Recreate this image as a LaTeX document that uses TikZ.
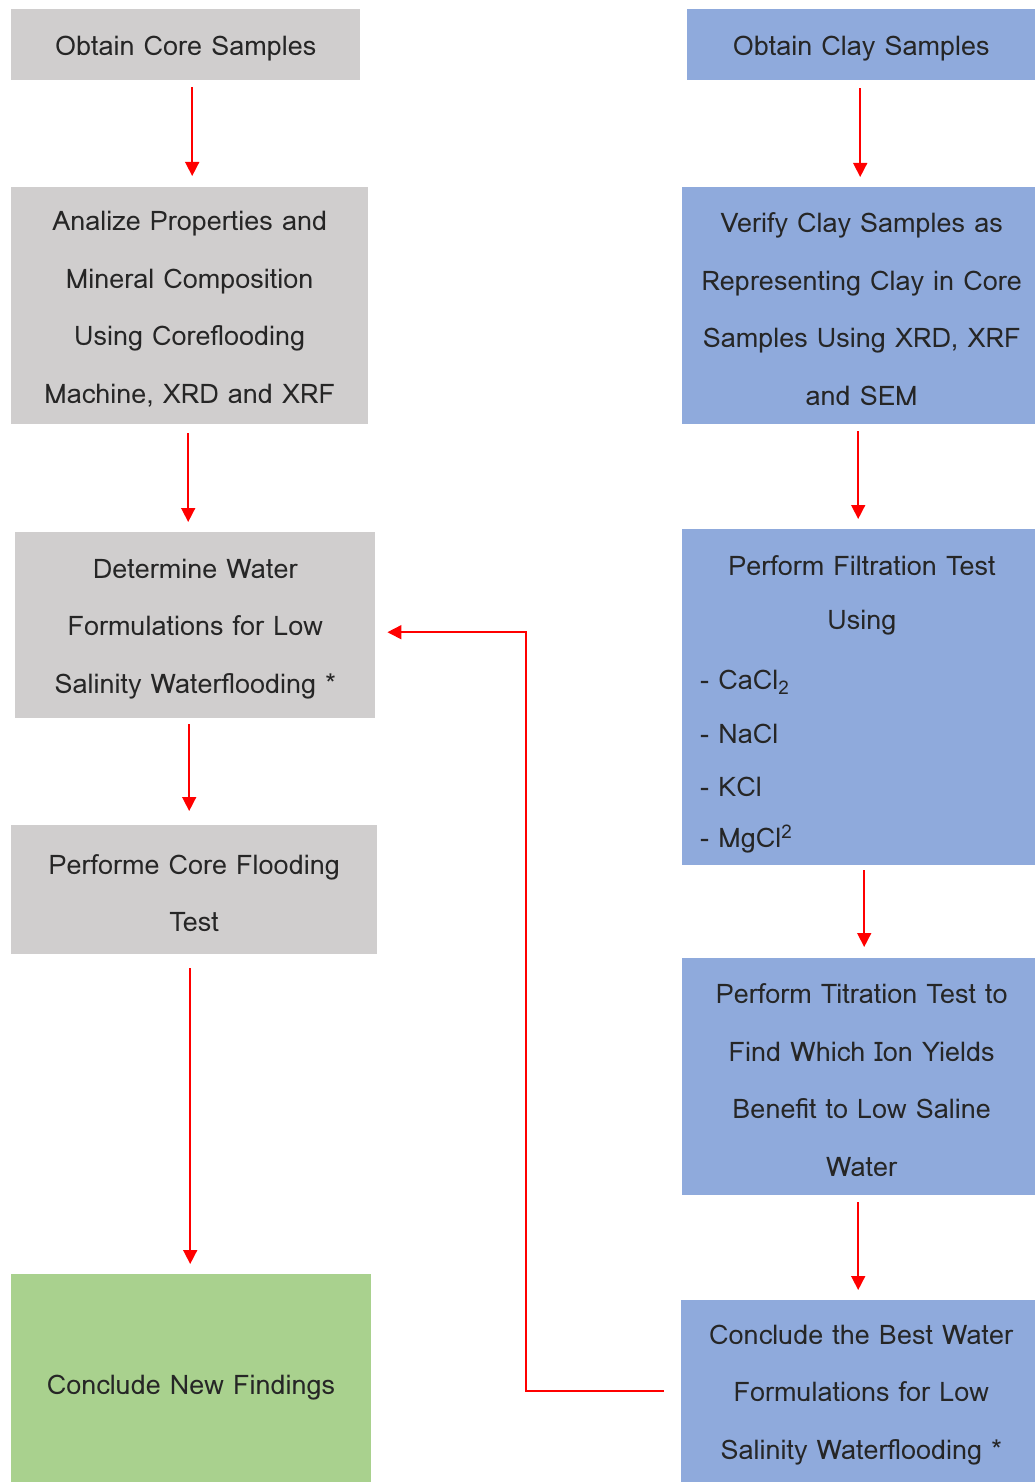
\documentclass[tikz,border=0pt]{standalone}
\usepackage{fontspec}
\setmainfont{Loma}
\usetikzlibrary{arrows.meta,calc}
\definecolor{boxgray}{HTML}{D0CECE}
\definecolor{boxblue}{HTML}{8FAADC}
\definecolor{boxgreen}{HTML}{A9D18E}
\definecolor{arrred}{HTML}{FF0000}
\tikzset{
  stepbox/.style={rectangle, anchor=north west, inner sep=0pt},
  graybox/.style={stepbox, fill=boxgray},
  bluebox/.style={stepbox, fill=boxblue},
  greenbox/.style={stepbox, fill=boxgreen},
  txt/.style={inner sep=0pt, align=center, yshift=-3.5pt,
    font=\fontsize{27}{57.5}\selectfont, text=black!85},
  listtext/.style={anchor=west, inner sep=0pt, yshift=-2pt, font=\fontsize{27}{32}\selectfont, text=black!85},
  arr/.style={draw=arrred, line width=1.6pt, -{Triangle[width=14pt,length=14pt]}},
}
\begin{document}
\begin{tikzpicture}[x=1pt,y=-1pt]
\useasboundingbox (0,0) rectangle (1035,1482);
% left column
\node[graybox, minimum width=349pt, minimum height=71pt] (n1) at (11,9) {};
\node[txt] (n1t) at (n1.center) {Obtain Core Samples};
\node[graybox, minimum width=357pt, minimum height=237pt] (n2) at (11,187) {};
\node[txt] (n2t) at (n2.center) {Analize Properties and\\Mineral Composition\\Using Coreflooding\\Machine, XRD and XRF};
\node[graybox, minimum width=360pt, minimum height=186pt] (n3) at (15,532) {};
\node[txt] (n3t) at (n3.center) {Determine Water\\Formulations for Low\\Salinity Waterflooding *};
\node[graybox, minimum width=366pt, minimum height=129pt] (n4) at (11,825) {};
\node[txt] (n4t) at (n4.center) {Performe Core Flooding\\Test};
\node[greenbox, minimum width=360pt, minimum height=208pt] (n5) at (11,1274) {};
\node[txt] (n5t) at (191,1384) {Conclude New Findings};
% right column
\node[bluebox, minimum width=348pt, minimum height=71pt] (m1) at (687,9) {};
\node[txt] (m1t) at (m1.center) {Obtain Clay Samples};
\node[bluebox, minimum width=353pt, minimum height=237pt] (m2) at (682,187) {};
\node[txt] (m2t) at ([xshift=3pt]m2.center) {Verify Clay Samples as\\Representing Clay in Core\\Samples Using XRD, XRF\\and SEM};
\node[bluebox, minimum width=353pt, minimum height=336pt] (m3) at (682,529) {};
\node[txt] (m3a) at (862,562) {Perform Filtration Test};
\node[txt] (m3b) at (862,619) {Using};
\node[listtext] (m3c) at (700,680) {- CaCl\textsubscript{2}};
\node[listtext] (m3d) at (700,732) {- NaCl};
\node[listtext] (m3e) at (700,785) {- KCl};
\node[listtext] (m3f) at (700,837) {- MgCl\textsuperscript{2}};
\node[bluebox, minimum width=353pt, minimum height=237pt] (m4) at (682,958) {};
\node[txt] (m4t) at ([xshift=3pt]m4.center) {Perform Titration Test to\\Find Which Ion Yields\\Benefit to Low Saline\\Water};
\node[bluebox, minimum width=354pt, minimum height=182pt] (m5) at (681,1300) {};
\node[txt] (m5t) at ([xshift=3pt]m5.center) {Conclude the Best Water\\Formulations for Low\\Salinity Waterflooding *};
% arrows left
\draw[arr, shorten <=7pt, shorten >=11pt] ([xshift=6.5pt]n1.south) -- ([xshift=6.5pt]n1.south |- n2.north);
\draw[arr, shorten <=9pt, shorten >=10pt] ([xshift=-1.5pt]n2.south) -- ([xshift=-1.5pt]n2.south |- n3.north);
\draw[arr, shorten <=6pt, shorten >=14pt] ([xshift=-6pt]n3.south) -- ([xshift=-6pt]n3.south |- n4.north);
\draw[arr, shorten <=14pt, shorten >=10pt] ([xshift=-4pt]n4.south) -- ([xshift=-4pt]n4.south |- n5.north);
% arrows right
\draw[arr, shorten <=8pt, shorten >=10pt] ([xshift=-1pt]m1.south) -- ([xshift=-1pt]m1.south |- m2.north);
\draw[arr, shorten <=7pt, shorten >=10pt] ([xshift=-0.5pt]m2.south) -- ([xshift=-0.5pt]m2.south |- m3.north);
\draw[arr, shorten <=5pt, shorten >=11pt] ([xshift=5.5pt]m3.south) -- ([xshift=5.5pt]m3.south |- m4.north);
\draw[arr, shorten <=7pt, shorten >=10pt] ([xshift=-0.5pt]m4.south) -- ([xshift=-0.5pt]m4.south |- m5.north);
% feedback arrow
\coordinate (bend) at (526,0);
\draw[arr, shorten <=17pt, shorten >=12pt] (m5.west) -- (m5.west -| bend) |- ([yshift=-7pt]n3.east);
\end{tikzpicture}
\end{document}
